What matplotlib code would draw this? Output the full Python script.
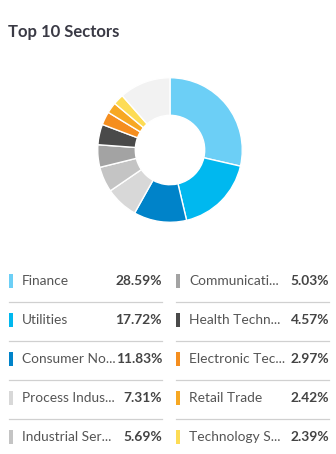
import matplotlib
matplotlib.use("Agg")
import matplotlib.pyplot as plt
from matplotlib.patches import Rectangle
from matplotlib.lines import Line2D

sectors = ["Finance", "Utilities", "Consumer No...", "Process Indus...", "Industrial Ser...",
           "Communicati...", "Health Techn...", "Electronic Tec...", "Retail Trade", "Technology S..."]
weights = [28.59, 17.72, 11.83, 7.31, 5.69, 5.03, 4.57, 2.97, 2.42, 2.39]
colors = ["#6ccff6", "#00b8ef", "#0083c9", "#d8d8d8", "#c4c4c4",
          "#a3a3a3", "#4a4a4a", "#f58e1f", "#f7a823", "#fddc55"]
other_color = "#f2f2f2"

W, H = 336, 454
fig = plt.figure(figsize=(W / 100, H / 100), dpi=100)
fig.patch.set_facecolor("white")

plt.rcParams["font.family"] = ["Lato", "DejaVu Sans"]

def fx(px):
    return px / W

def fy(py):
    return 1 - py / H

# Title
fig.text(fx(8), fy(32), "Top 10 Sectors", fontsize=12, fontweight="bold",
         color="#3a3a45", va="center", ha="left")

# Donut
cx, cy, r = 170, 150, 73
ax = fig.add_axes([fx(cx - r), fy(cy + r), (2 * r) / W, (2 * r) / H])
remaining = 100 - sum(weights)
ax.pie(weights + [remaining], colors=colors + [other_color], startangle=90,
       counterclock=False, radius=1,
       wedgeprops=dict(width=0.52, edgecolor="white", linewidth=1.0))
ax.set_xlim(-1.01, 1.01)
ax.set_ylim(-1.01, 1.01)
ax.set_aspect("equal")
ax.axis("off")

# Legend table: two columns of five rows
row_y = [281, 320, 359, 398, 437]
cols = [dict(bar=9, text=22, val=162), dict(bar=176, text=189, val=329)]
for i, (name, w, c) in enumerate(zip(sectors, weights, colors)):
    col = cols[i // 5]
    row = i % 5
    y = row_y[row]
    fig.patches.append(Rectangle((fx(col["bar"]), fy(y + 7)), 4 / W, 14 / H,
                                 transform=fig.transFigure, facecolor=c,
                                 edgecolor="none"))
    fig.text(fx(col["text"]), fy(y), name, fontsize=9.9, color="#555555",
             va="center", ha="left")
    fig.text(fx(col["val"]), fy(y), f"{w:.2f}%", fontsize=9.9, fontweight="bold",
             color="#444444", va="center", ha="right")
    if row < 4:
        ly = fy(y + 21)
        fig.lines.append(Line2D([fx(col["bar"]), fx(col["val"])], [ly, ly],
                                transform=fig.transFigure, color="#d0d0d0",
                                linewidth=0.9))

fig.savefig("out.png", dpi=100, facecolor="white")
